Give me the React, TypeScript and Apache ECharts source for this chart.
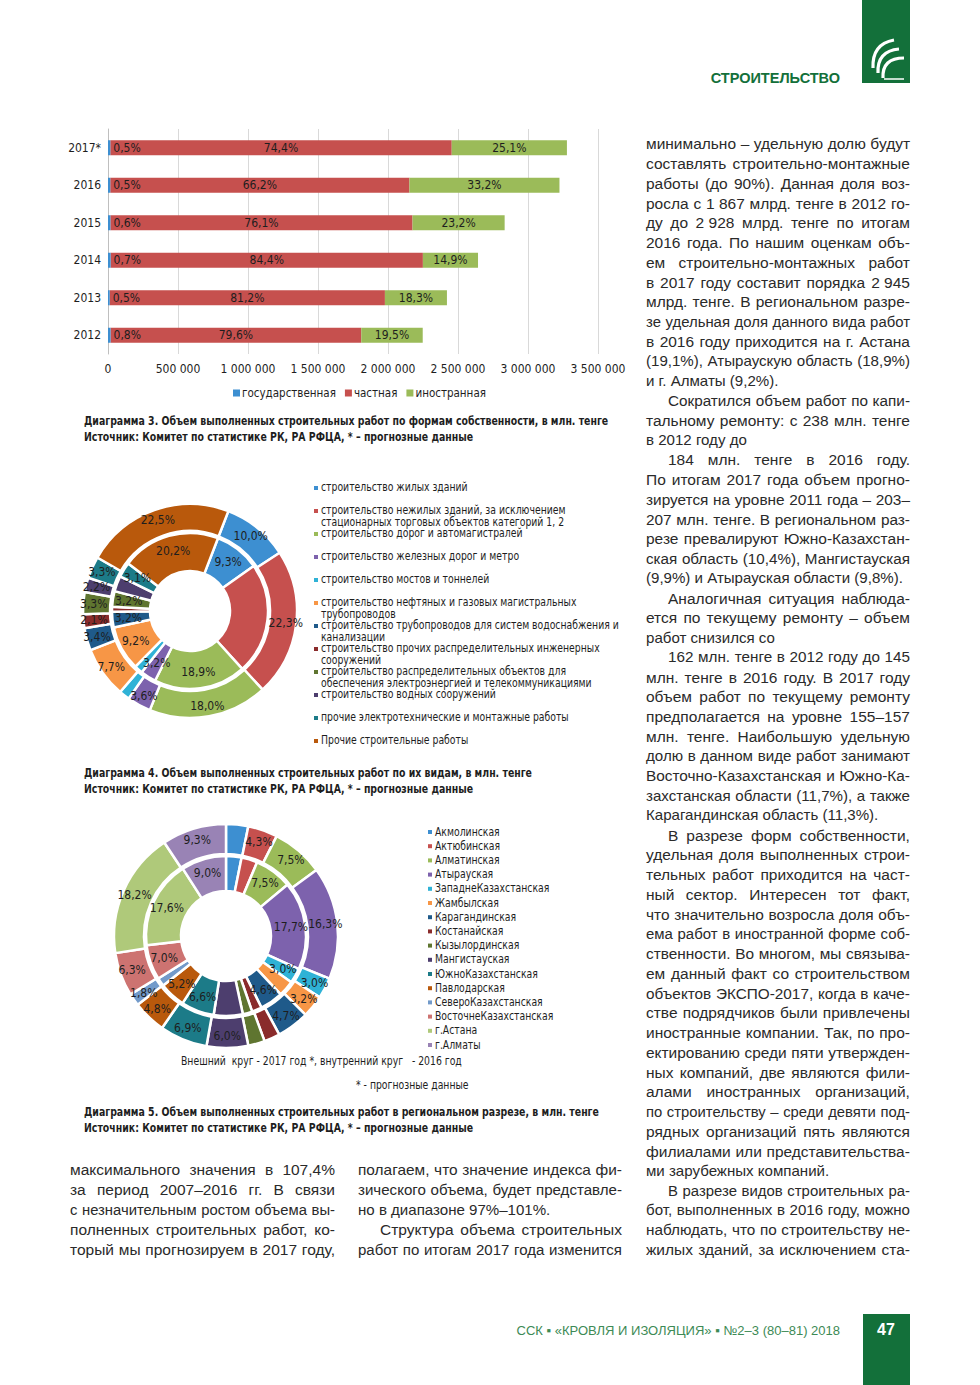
import React, { useEffect, useRef } from "react";
import * as echarts from "echarts";

// ---------- Diagram 3 data (млн. тенге) ----------
const years = ["2012", "2013", "2014", "2015", "2016", "2017*"];
const govValues = [18000, 12100, 18500, 17000, 16100, 16400];
const privValues = [1791000, 1965900, 2230700, 2158200, 2137000, 2438800];
const foreignValues = [439000, 443000, 393800, 658000, 1071700, 822800];
const govPct = [0.8, 0.5, 0.7, 0.6, 0.5, 0.5];
const privPct = [79.6, 81.2, 84.4, 76.1, 66.2, 74.4];
const foreignPct = [19.5, 18.3, 14.9, 23.2, 33.2, 25.1];
const ownershipNames = ["государственная", "частная", "иностранная"];

// ---------- Diagram 4 data (%) ----------
const workTypes = [
  "строительство жилых зданий",
  "строительство нежилых зданий, за исключением\nстационарных торговых объектов категорий 1, 2",
  "строительство дорог и автомагистралей",
  "строительство железных дорог и метро",
  "строительство мостов и тоннелей",
  "строительство нефтяных и газовых магистральных\nтрубопроводов",
  "строительство трубопроводов для систем водоснабжения и\nканализации",
  "строительство прочих распределительных инженерных\nсооружений",
  "строительство распределительных объектов для\nобеспечения электроэнергией и телекоммуникациями",
  "строительство водных сооружений",
  "прочие электротехнические и монтажные работы",
  "Прочие строительные работы",
];
const works2017 = [10.0, 22.3, 18.0, 3.6, 1.6, 7.7, 3.4, 2.1, 3.3, 2.2, 3.3, 22.5];
const works2016 = [9.3, 22.9, 18.9, 3.2, 1.7, 9.2, 3.2, 1.0, 3.2, 3.2, 3.1, 20.2];

// ---------- Diagram 5 data (%) ----------
const regions = [
  "Акмолинская", "Актюбинская", "Алматинская", "Атырауская", "ЗападнеКазахстанская",
  "Жамбылская", "Карагандинская", "Костанайская", "Кызылординская", "Мангистауская",
  "ЮжноКазахстанская", "Павлодарская", "СевероКазахстанская", "ВосточнеКазахстанская",
  "г.Астана", "г.Алматы",
];
const regions2017 = [3.2, 4.3, 7.5, 16.3, 3.0, 3.2, 4.7, 2.3, 2.4, 6.0, 6.9, 4.8, 1.8, 6.3, 18.2, 9.3];
const regions2016 = [3.1, 3.2, 7.5, 17.7, 3.0, 3.2, 4.6, 2.0, 1.9, 5.8, 6.6, 5.2, 1.7, 7.0, 17.6, 9.0];

const palette = [
  "#3d8fd1", "#c6504e", "#9bbb59", "#7d62ad", "#2fb2d6", "#f79646",
  "#1f5a8a", "#8a2b2b", "#5f7530", "#4d3e6e", "#1c7b88", "#b9590c",
  "#729aca", "#cd7371", "#afc97a", "#9983b5",
];

// ---------- Page texts ----------
const captions: [string, string][] = [
  ["Диаграмма 3. Объем выполненных строительных работ по формам собственности, в млн. тенге", "Источник: Комитет по статистике РК, РА РФЦА, * – прогнозные данные"],
  ["Диаграмма 4. Объем выполненных строительных работ по их видам, в млн. тенге", "Источник: Комитет по статистике РК, РА РФЦА, * – прогнозные данные"],
  ["Диаграмма 5. Объем выполненных строительных работ в региональном разрезе, в млн. тенге", "Источник: Комитет по статистике РК, РА РФЦА, * – прогнозные данные"],
];

const NB = "\u00A0";
const rightColumn: [string, string][] = [
  ["минимально – удельную долю будут", "j"],
  ["составлять строительно-монтажные", "j"],
  ["работы (до 90%). Данная доля воз-", "j"],
  [`росла с 1${NB}867 млрд. тенге в 2012 го-`, "j"],
  [`ду до 2${NB}928 млрд. тенге по итогам`, "j"],
  ["2016 года. По нашим оценкам объ-", "j"],
  ["ем строительно-монтажных работ", "j"],
  [`в 2017 году составит порядка 2${NB}945`, "j"],
  ["млрд. тенге. В региональном разре-", "j"],
  ["зе удельная доля данного вида работ", "j"],
  ["в 2016 году приходится на г. Астана", "j"],
  ["(19,1%), Атыраускую область (18,9%)", "j"],
  ["и г. Алматы (9,2%).", "l"],
  ["Сократился объем работ по капи-", "ij"],
  ["тальному ремонту: с 238 млн. тенге", "j"],
  ["в 2012 году до", "l"],
  ["184 млн. тенге в 2016 году.", "ij"],
  ["По итогам 2017 года объем прогно-", "j"],
  ["зируется на уровне 2011 года – 203–", "j"],
  ["207 млн. тенге. В региональном раз-", "j"],
  ["резе превалируют Южно-Казахстан-", "j"],
  ["ская область (10,4%), Мангистауская", "j"],
  ["(9,9%) и Атырауская области (9,8%).", "l"],
  ["Аналогичная ситуация наблюда-", "ij"],
  ["ется по текущему ремонту – объем", "j"],
  ["работ снизился со", "l"],
  ["162 млн. тенге в 2012 году до 145", "ij"],
  ["млн. тенге в 2016 году. В 2017 году", "j"],
  ["объем работ по текущему ремонту", "j"],
  ["предполагается на уровне 155–157", "j"],
  ["млн. тенге. Наибольшую удельную", "j"],
  ["долю в данном виде работ занимают", "j"],
  ["Восточно-Казахстанская и Южно-Ка-", "j"],
  ["захстанская области (11,7%), а также", "j"],
  ["Карагандинская область (11,3%).", "l"],
  ["В разрезе форм собственности,", "ij"],
  ["удельная доля выполненных строи-", "j"],
  ["тельных работ приходится на част-", "j"],
  ["ный сектор. Интересен тот факт,", "j"],
  ["что значительно возросла доля объ-", "j"],
  ["ема работ в иностранной форме соб-", "j"],
  ["ственности. Во многом, мы связыва-", "j"],
  ["ем данный факт со строительством", "j"],
  ["объектов ЭКСПО-2017, когда в каче-", "j"],
  ["стве подрядчиков были привлечены", "j"],
  ["иностранные компании. Так, по про-", "j"],
  ["ектированию среди пяти утвержден-", "j"],
  ["ных компаний, две являются фили-", "j"],
  ["алами иностранных организаций,", "j"],
  ["по строительству – среди девяти под-", "j"],
  ["рядных организаций пять являются", "j"],
  ["филиалами или представительства-", "j"],
  ["ми зарубежных компаний.", "l"],
  ["В разрезе видов строительных ра-", "ij"],
  ["бот, выполненных в 2016 году, можно", "j"],
  ["наблюдать, что по строительству не-", "j"],
  ["жилых зданий, за исключением ста-", "j"],
];

const leftColumn: [string, string][] = [
  ["максимального значения в 107,4%", "j"],
  ["за период 2007–2016 гг. В связи", "j"],
  ["с незначительным ростом объема вы-", "j"],
  ["полненных строительных работ, ко-", "j"],
  ["торый мы прогнозируем в 2017 году,", "j"],
];
const middleColumn: [string, string][] = [
  ["полагаем, что значение индекса фи-", "j"],
  ["зического объема, будет представле-", "j"],
  ["но в диапазоне 97%–101%.", "l"],
  ["Структура объема строительных", "ij"],
  ["работ по итогам 2017 года изменится", "j"],
];

const NARROW = '"Liberation Sans Narrow", "Arial Narrow", "DejaVu Sans Condensed", sans-serif';
const BODY = '"Liberation Sans", Arial, sans-serif';
const INK = "#1e1e1e";
const GREEN = "#13703a";

const pct = (v: number) => v.toFixed(1).replace(".", ",") + "%";
const thousands = (v: number) => String(v).replace(/\B(?=(\d{3})+(?!\d))/g, " ");

let measureCtx: CanvasRenderingContext2D | null = null;
function textWidth(s: string, font: string) {
  if (!measureCtx) measureCtx = document.createElement("canvas").getContext("2d");
  measureCtx!.font = font;
  return measureCtx!.measureText(s).width;
}

function txt(text: string, x: number, y: number, size: number, family: string, fill: string, extra: any = {}) {
  return {
    type: "text",
    x,
    y,
    scaleX: extra.scaleX || 1,
    silent: true,
    style: {
      text,
      fontSize: size,
      fontFamily: family,
      fontWeight: extra.weight || "normal",
      fill,
      textAlign: extra.align || "left",
      align: extra.align || "left",
      textVerticalAlign: extra.valign || "middle",
      verticalAlign: extra.valign || "middle",
      lineHeight: extra.lineHeight,
    },
  };
}

const BODY_SIZE = 14.5;
function column(lines: [string, string][], x0: number, width: number, y0: number, lh: number) {
  const font = `${BODY_SIZE}px ${BODY}`;
  const out: any[] = [];
  lines.forEach(([t, mode], i) => {
    const y = y0 + i * lh;
    const ind = mode.startsWith("i") ? 22 : 0;
    const x = x0 + ind;
    const w = width - ind;
    if (mode.endsWith("j")) {
      const words = t.split(" ");
      const ws = words.map((wd) => textWidth(wd, font));
      const total = ws.reduce((a, b) => a + b, 0);
      const n = words.length;
      let s = 1;
      let gap = 0;
      if (n > 1) {
        s = (w - 4.6 * (n - 1)) / total;
        s = Math.max(0.85, Math.min(1.07, s));
        gap = (w - total * s) / (n - 1);
      }
      let cx = x;
      words.forEach((wd, k) => {
        out.push(txt(wd, cx, y, BODY_SIZE, BODY, "#2a2a2a", { scaleX: s }));
        cx += ws[k] * s + gap;
      });
    } else {
      out.push(txt(t, x, y, BODY_SIZE, BODY, "#2a2a2a", { scaleX: 1.04 }));
    }
  });
  return out;
}

function buildOption() {
  const graphics: any[] = [];

  // header
  graphics.push({ type: "rect", silent: true, shape: { x: 862, y: 0, width: 48, height: 83 }, style: { fill: GREEN } });
  [0, 1, 2].forEach((k) => {
    graphics.push({
      type: "bezierCurve",
      silent: true,
      shape: { x1: 873 + k * 5, y1: 68 + k * 5, x2: 894 + k * 5, y2: 40 + k * 9, cpx1: 872 + k * 5, cpy1: 44 + k * 7 },
      style: { stroke: "#fff", lineWidth: 3.2, fill: null },
    });
  });
  graphics.push({ type: "line", silent: true, shape: { x1: 884, y1: 79, x2: 904, y2: 79 }, style: { stroke: "#fff", lineWidth: 1.5 } });
  graphics.push(txt("СТРОИТЕЛЬСТВО", 840, 78, 14.5, BODY, GREEN, { align: "right", weight: "bold" }));

  // footer
  graphics.push({ type: "rect", silent: true, shape: { x: 863, y: 1314, width: 47, height: 71 }, style: { fill: GREEN } });
  graphics.push(txt("47", 886, 1329, 16, BODY, "#fff", { align: "center", weight: "bold" }));
  graphics.push(txt("ССК ▪ «КРОВЛЯ И ИЗОЛЯЦИЯ» ▪ №2–3 (80–81) 2018", 840, 1330, 13, BODY, "#3d8a55", { align: "right" }));

  // captions: condensed bold, scaled horizontally to the column
  const capY = [421, 773, 1112];
  const capFont = `bold 12.5px ${NARROW}`;
  const capScale = 525 / textWidth(captions[0][0], capFont);
  captions.forEach(([a, b], i) => {
    graphics.push(txt(a, 84, capY[i], 12.5, NARROW, INK, { weight: "bold", scaleX: capScale }));
    graphics.push(txt(b, 84, capY[i] + 16, 12.5, NARROW, INK, { weight: "bold", scaleX: capScale }));
  });

  // legend diagram 4
  const legFont = `11.5px ${NARROW}`;
  const legScale = 298 / textWidth("строительство трубопроводов для систем водоснабжения и", legFont);
  workTypes.forEach((name, i) => {
    const y = 488 + i * 23;
    graphics.push({ type: "rect", silent: true, shape: { x: 314, y: y - 2, width: 4, height: 4 }, style: { fill: palette[i] } });
    graphics.push(txt(name, 321, y - 6.5, 11.5, NARROW, INK, { valign: "top", lineHeight: 11.7, scaleX: legScale }));
  });

  // legend diagram 5
  regions.forEach((name, i) => {
    const y = 832 + i * 14.2;
    graphics.push({ type: "rect", silent: true, shape: { x: 428, y: y - 2, width: 4, height: 4 }, style: { fill: palette[i] } });
    graphics.push(txt(name, 435, y, 11.5, NARROW, INK, { scaleX: legScale }));
  });
  graphics.push(txt("Внешний  круг - 2017 год *, внутренний круг   - 2016 год", 181, 1061, 11.5, NARROW, INK, { scaleX: legScale }));
  graphics.push(txt("* - прогнозные данные", 356, 1085, 11.5, NARROW, INK, { scaleX: legScale }));

  // body text
  graphics.push(...column(rightColumn, 646, 264, 144, 19.75));
  graphics.push(...column(leftColumn, 70, 265, 1170, 20));
  graphics.push(...column(middleColumn, 358, 264, 1170, 20));

  const barLabel = { fontSize: 12, color: INK, fontFamily: NARROW };
  const pieBase = (center: number[], radius: number[], startAngle: number, names: string[], values: number[]) => ({
    type: "pie",
    center,
    radius,
    startAngle,
    clockwise: true,
    silent: true,
    avoidLabelOverlap: false,
    itemStyle: { borderColor: "#fff", borderWidth: 2.5 },
    label: { show: true, position: "inside", formatter: (p: any) => pct(p.value), fontSize: 12, color: INK, fontFamily: NARROW },
    labelLine: { show: false },
    emphasis: { disabled: true },
    data: names.map((n, i) => ({ name: n, value: values[i], itemStyle: { color: palette[i] } })),
  });

  return {
    animation: false,
    backgroundColor: "#ffffff",
    textStyle: { fontFamily: NARROW },
    grid: { left: 108, top: 129, width: 490, height: 225, containLabel: false },
    legend: {
      data: ownershipNames,
      left: 228,
      top: 382,
      icon: "rect",
      itemWidth: 7,
      itemHeight: 7,
      itemGap: 9,
      selectedMode: false,
      textStyle: { fontSize: 11.5, color: INK, fontFamily: NARROW, padding: [0, 0, 0, -3] },
    },
    xAxis: {
      type: "value",
      min: 0,
      max: 3500000,
      interval: 500000,
      axisLine: { show: false },
      axisTick: { show: false },
      splitLine: { show: true, lineStyle: { color: "#d9d9d9", width: 1 } },
      axisLabel: { fontSize: 12, color: INK, margin: 9, formatter: (v: number) => thousands(v) },
    },
    yAxis: {
      type: "category",
      data: years,
      axisTick: { show: false },
      axisLine: { show: true, lineStyle: { color: "#bfbfbf" } },
      axisLabel: { fontSize: 12, color: INK, margin: 7 },
    },
    series: [
      {
        name: ownershipNames[0], type: "bar", stack: "own", barWidth: 15, z: 4,
        itemStyle: { color: palette[0] }, data: govValues, silent: true,
        label: { show: true, position: "right", distance: 3, ...barLabel, formatter: (p: any) => pct(govPct[p.dataIndex]) },
      },
      {
        name: ownershipNames[1], type: "bar", stack: "own", barWidth: 15,
        itemStyle: { color: palette[1] }, data: privValues, silent: true,
        label: { show: true, position: "inside", ...barLabel, formatter: (p: any) => pct(privPct[p.dataIndex]) },
      },
      {
        name: ownershipNames[2], type: "bar", stack: "own", barWidth: 15,
        itemStyle: { color: palette[2] }, data: foreignValues, silent: true,
        label: { show: true, position: "inside", ...barLabel, formatter: (p: any) => pct(foreignPct[p.dataIndex]) },
      },
      pieBase([190, 611], [80, 107], 69, workTypes, works2017),
      pieBase([190, 611], [40, 78], 69, workTypes, works2016),
      pieBase([226, 936], [82, 112], 90, regions, regions2017),
      pieBase([226, 936], [45, 80], 90, regions, regions2016),
    ],
    graphic: { elements: graphics },
  };
}

export default function App() {
  const ref = useRef<HTMLDivElement>(null);
  useEffect(() => {
    if (!ref.current) return;
    const chart = echarts.init(ref.current, null, { renderer: "svg" });
    chart.setOption(buildOption() as any);
    return () => chart.dispose();
  }, []);
  return (
    <div
      ref={ref}
      style={{ position: "absolute", left: 0, top: 0, width: 980, height: 1385, background: "#fff" }}
    />
  );
}
